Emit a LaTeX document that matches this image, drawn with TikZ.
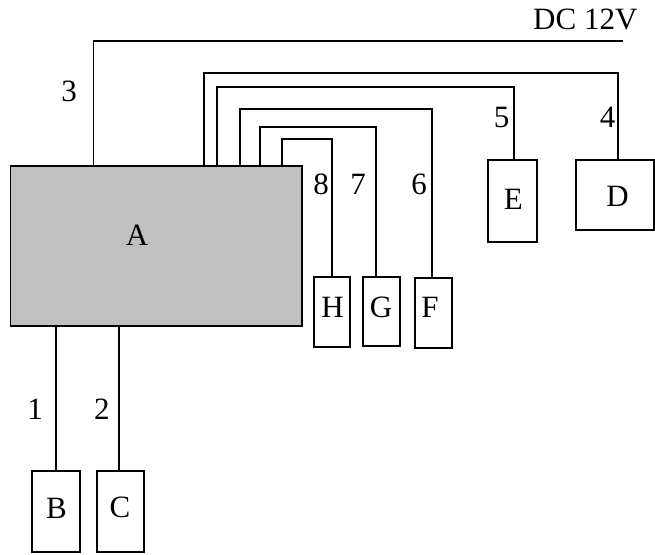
\documentclass[tikz,border=0pt]{standalone}
\usepackage{fontspec}
\setmainfont{Liberation Serif}
\definecolor{unitgray}{RGB}{192,192,192}
\tikzset{
  wire/.style={line width=1.8pt, line join=miter},
  unit/.style={draw, line width=1.8pt, inner sep=0pt, outer sep=0pt},
  txt/.style={inner sep=0pt, font=\fontsize{31}{31}\selectfont}
}
\begin{document}
\begin{tikzpicture}[x=1pt, y=-1pt]
\useasboundingbox (0,0) rectangle (655,554);

% control unit
\node[unit, fill=unitgray, minimum width=291.5pt, minimum height=159.7pt] (A) at (156.25,245.85) {};
\node[txt] (tA) at (137,235) {A};

% peripheral units
\node[unit, minimum width=48.3pt, minimum height=81pt] (B) at (55.85,511.2) {};
\node[unit, minimum width=47.6pt, minimum height=81pt] (C) at (120.5,511.2) {};
\node[unit, minimum width=78pt, minimum height=70pt] (D) at (615,195) {};
\node[unit, minimum width=48.4pt, minimum height=81.7pt] (E) at (512.5,200.85) {};
\node[unit, minimum width=36.7pt, minimum height=70pt] (F) at (433.65,313.3) {};
\node[unit, minimum width=37pt, minimum height=69.3pt] (G) at (381.8,311.35) {};
\node[unit, minimum width=36.6pt, minimum height=69.7pt] (H) at (332,311.85) {};

\node[txt] (tB) at (56.5,508.5) {B};
\node[txt] (tC) at (120,507) {C};
\node[txt] (tD) at (617.5,196) {D};
\node[txt] (tE) at (513.3,199) {E};
\node[txt] (tF) at (430,307) {F};
\node[txt] (tG) at (381,307) {G};
\node[txt] (tH) at (332.5,307) {H};

% wire corners
\coordinate (k3) at (93.5,40.7);   \coordinate (m3) at (622.7,40.7);
\coordinate (k4) at (204,72.7);    \coordinate (m4) at (618,72.7);
\coordinate (k5) at (217,86.7);    \coordinate (m5) at (514,86.7);
\coordinate (k6) at (240,109);     \coordinate (m6) at (432,109);
\coordinate (k7) at (260,126.7);   \coordinate (m7) at (376,126.7);
\coordinate (k8) at (282,139.3);   \coordinate (m8) at (332,139.3);
\coordinate (k1) at (55.7,400);    \coordinate (k2) at (119.3,400);

% wires
\draw[wire] (A.north -| k3) -- (k3) -- (m3);
\draw[wire] (A.north -| k4) -- (k4) -- (m4) -- (D.north -| m4);
\draw[wire] (A.north -| k5) -- (k5) -- (m5) -- (E.north -| m5);
\draw[wire] (A.north -| k6) -- (k6) -- (m6) -- (F.north -| m6);
\draw[wire] (A.north -| k7) -- (k7) -- (m7) -- (G.north -| m7);
\draw[wire] (A.north -| k8) -- (k8) -- (m8) -- (H.north -| m8);
\draw[wire] (A.south -| k1) -- (B.north -| k1);
\draw[wire] (A.south -| k2) -- (C.north -| k2);

% wire labels
\node[txt, anchor=base west] (dc) at (533,29.3) {DC 12V};
\node[txt] (n1) at (35,409) {1};
\node[txt] (n2) at (101.8,409) {2};
\node[txt] (n3) at (69,91) {3};
\node[txt] (n4) at (607.5,117.5) {4};
\node[txt] (n5) at (501.7,117.5) {5};
\node[txt] (n6) at (419,184) {6};
\node[txt] (n7) at (358,184) {7};
\node[txt] (n8) at (321,184) {8};
\end{tikzpicture}
\end{document}
